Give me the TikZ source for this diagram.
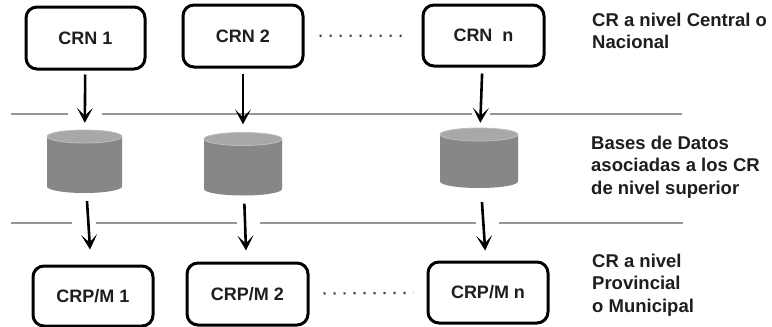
\documentclass[tikz,border=0pt]{standalone}
\usepackage{fontspec}
\setmainfont{Liberation Sans}
\usetikzlibrary{arrows.meta}
\definecolor{txt}{HTML}{1E1E1E}
\definecolor{sepgray}{HTML}{959595}
\definecolor{dbbodyc}{HTML}{878787}
\definecolor{dbtopc}{HTML}{A8A8A8}
\definecolor{dbedge}{HTML}{BDBDBD}
\tikzset{
  crbox/.style={draw=black, line width=3pt, rounded corners=11pt, fill=white,
    font=\fontsize{18}{22}\selectfont\bfseries, text=txt, inner sep=0pt},
  dbnode/.style={draw=none, inner sep=0pt},
  arr/.style={-{Stealth[length=15pt,width=16pt,inset=8pt]}, line width=2.6pt, black},
  dotline/.style={line width=2.2pt, dash pattern=on 2.2pt off 7.8pt, black!75},
  sepline/.style={line width=1.3pt, sepgray},
  lab/.style={anchor=west, align=left, inner sep=0pt, text=txt, font=\fontsize{18.5}{22.5}\selectfont\bfseries},
  dbbody/.style={fill=dbbodyc},
  dbtop/.style={fill=dbtopc, draw=dbedge, line width=0.8pt}
}
\newcommand\dbdraw[4]{% cx, top, bottom, rx
  \pgfmathsetmacro\cylL{#1-#4}\pgfmathsetmacro\cylR{#1+#4}%
  \pgfmathsetmacro\cylT{#2+6.5}\pgfmathsetmacro\cylB{#3-6.5}%
  \fill[dbbody] (\cylL,\cylT) -- (\cylL,\cylB) .. controls (\cylL,\cylB+3.6) and (#1-0.5523*#4,#3) .. (#1,#3)
     .. controls (#1+0.5523*#4,#3) and (\cylR,\cylB+3.6) .. (\cylR,\cylB) -- (\cylR,\cylT) -- cycle;
  \draw[dbtop] (#1,\cylT) ellipse[x radius=#4, y radius=6.5];
}
\begin{document}
\begin{tikzpicture}[x=1pt,y=-1pt]
\useasboundingbox[fill=white] (0,0) rectangle (772,327);

% separator lines
\draw[sepline] (11,114) -- (68,114);
\draw[sepline] (102,114) -- (472,114);
\draw[sepline] (490,114) -- (682,114);
\draw[sepline] (11,223) -- (72,223);
\draw[sepline] (96,223) -- (237,223);
\draw[sepline] (260,223) -- (476,223);
\draw[sepline] (499,223) -- (683,223);

% top boxes
\node[crbox, minimum width=119pt, minimum height=62pt] (crn1) at (85.5,38) {CRN 1};
\node[crbox, minimum width=120pt, minimum height=62pt] (crn2) at (243,36) {CRN 2};
\node[crbox, minimum width=121pt, minimum height=61pt] (crnn) at (483.5,35.5) {CRN\ \ n};

% databases
\node[dbnode, minimum width=75pt, minimum height=63pt] (db1) at (84.5,161.5) {};
\node[dbnode, minimum width=78pt, minimum height=63pt] (db2) at (243,164) {};
\node[dbnode, minimum width=78pt, minimum height=60pt] (dbn) at (479,158) {};
\dbdraw{84.5}{130}{193}{37.5}
\dbdraw{243}{132.5}{195.5}{39}
\dbdraw{479}{128}{188}{39}

% bottom boxes
\node[crbox, minimum width=120pt, minimum height=60pt] (crpm1) at (93,296) {CRP/M 1};
\node[crbox, minimum width=121pt, minimum height=62pt] (crpm2) at (247.5,294) {CRP/M 2};
\node[crbox, minimum width=120pt, minimum height=61pt] (crpmn) at (488,292.5) {CRP/M n};

% arrows
\draw[arr, shorten <=4pt, shorten >=7pt] (crn1) -- (db1);
\draw[arr, shorten <=5pt, shorten >=8pt] (crn2) -- (db2);
\draw[arr, shorten <=6pt, shorten >=5pt] (crnn) -- (dbn);
\draw[arr, shorten <=8pt, shorten >=15pt] (db1) -- (crpm1);
\draw[arr, shorten <=8pt, shorten >=11pt] (db2) -- (crpm2);
\draw[arr, shorten <=14pt, shorten >=10pt] (dbn) -- (crpmn);

% dotted continuations
\draw[dotline, shorten <=15pt, shorten >=13pt] (crn2) -- (crnn);
\draw[dotline, shorten <=14pt, shorten >=13pt] (crpm2) -- (crpmn);

% right-hand labels
\node[lab] (l1) at (592,31) {CR a nivel Central o\\Nacional};
\node[lab] (l2) at (591,167) {Bases de Datos\\asociadas a los CR\\de nivel superior};
\node[lab] (l3) at (592,285) {CR a nivel\\Provincial\\o Municipal};
\end{tikzpicture}
\end{document}
